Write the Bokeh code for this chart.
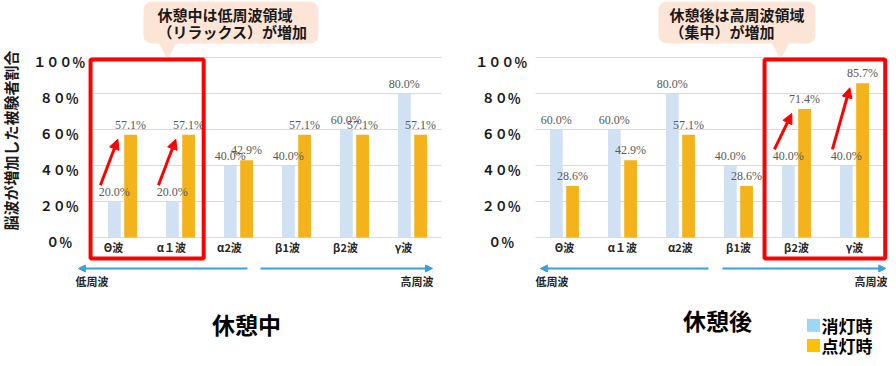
import numpy as np
from bokeh.plotting import figure
from bokeh.models import (ColumnDataSource, LabelSet, BoxAnnotation, Arrow,
                          NormalHead, Range1d)
from bokeh.core.properties import value
from bokeh.embed import file_html
from bokeh.resources import INLINE

# ---------------- data ----------------
categories = ["Θ波", "α１波", "α2波", "β1波", "β2波", "γ波"]
rest_off = [20.0, 20.0, 40.0, 40.0, 60.0, 80.0]      # 休憩中 消灯時
rest_on = [57.1, 57.1, 42.9, 57.1, 57.1, 57.1]       # 休憩中 点灯時
after_off = [60.0, 60.0, 80.0, 40.0, 40.0, 40.0]     # 休憩後 消灯時
after_on = [28.6, 42.9, 57.1, 28.6, 71.4, 85.7]      # 休憩後 点灯時
y_ticks = [0, 20, 40, 60, 80, 100]
y_tick_labels = ["０％", "２０％", "４０％", "６０％", "８０％", "１００％"]
series_names = ["消灯時", "点灯時"]
chart_titles = ["休憩中", "休憩後"]
callout_texts = [["休憩中は低周波領域", "（リラックス）が増加"],
                 ["休憩後は高周波領域", "（集中）が増加"]]
y_title = "脳波が増加した被験者割合"

# ---------------- style ----------------
JP = value("Noto Sans CJK JP")
SERIF = value("Liberation Serif")
BLUE_BAR = "#CFE1F2"
ORANGE_BAR = "#F5B31B"
BLUE_LEG = "#9CD8F5"
ORANGE_LEG = "#FFC000"
GRID = "#D9D9D9"
RED = "#FF0000"
DIR_BLUE = "#3AA0DA"
CALLOUT = "#FCE4D6"

p = figure(width=888, height=358, output_backend="svg", toolbar_location=None,
           x_range=Range1d(-2.103, 13.207), y_range=Range1d(-67.22, 131.67),
           x_axis_location=None, y_axis_location=None,
           min_border=0, outline_line_color=None, background_fill_color="white")
p.grid.visible = False

RIGHT = 7.62   # horizontal offset of the second chart
charts = [
    dict(off=0.0, blue=rest_off, orange=rest_on, label_dx=-9, hl=[0, 1],
         box=(-0.55, 0.40), dir_l=(2.155, -0.76), dir_r=(2.38, 5.345),
         low=(-0.526, "center"), high=(5.078, "center"), title_x=2.14, title_y=-48.3,
         callout=(0.362, 3.379, 0.603, 0.776)),
    dict(off=RIGHT, blue=after_off, orange=after_on, label_dx=0, hl=[4, 5],
         box=(-0.55, 0.53), dir_l=(2.483, -0.414), dir_r=(2.724, 5.54),
         low=(-0.216, "center"), high=(5.57, "right"), title_x=2.64, title_y=-46.1,
         callout=(9.241 - RIGHT, 11.948 - RIGHT, 9.431 - RIGHT, 11.345 - RIGHT)),
]

for ci, c in enumerate(charts):
    o = c["off"]
    pos = np.arange(len(categories)) + o
    # gridlines
    p.segment(x0=[o - 0.5] * len(y_ticks), x1=[o + 5.5] * len(y_ticks),
              y0=y_ticks, y1=y_ticks, line_color=GRID, line_width=1)
    # y tick labels
    p.text(x=[o - 1.09] * len(y_ticks), y=[t - 2.2 for t in y_ticks],
           text=y_tick_labels, text_font=JP, text_font_style="bold",
           text_font_size="13px", text_align="center", text_baseline="middle",
           text_color="#1a1a1a")
    # bars
    src_b = ColumnDataSource(dict(x=pos - 0.14, top=c["blue"],
                                  lab=[f"{v:.1f}%" for v in c["blue"]]))
    src_o = ColumnDataSource(dict(x=pos + 0.14, top=c["orange"],
                                  lab=[f"{v:.1f}%" for v in c["orange"]]))
    p.vbar(x="x", top="top", bottom=0, width=0.22, source=src_b,
           fill_color=BLUE_BAR, line_color=None)
    p.vbar(x="x", top="top", bottom=0, width=0.22, source=src_o,
           fill_color=ORANGE_BAR, line_color=None)
    for s in (src_b, src_o):
        p.add_layout(LabelSet(x="x", y="top", text="lab", source=s, y_offset=3,
                              text_align="center", text_baseline="bottom",
                              text_font=SERIF, text_font_size="12px",
                              text_color="#595959"))
    # category labels
    p.text(x=pos, y=[-5] * len(categories), text=categories, x_offset=c["label_dx"],
           text_font=JP, text_font_style="bold", text_font_size="11px",
           text_align="center", text_baseline="middle", text_color="#262626")
    # frequency direction arrows
    for xs, xe in (c["dir_l"], c["dir_r"]):
        p.add_layout(Arrow(x_start=o + xs, y_start=-17.2, x_end=o + xe, y_end=-17.2,
                           line_color=DIR_BLUE, line_width=2,
                           end=NormalHead(size=7, fill_color=DIR_BLUE,
                                          line_color=DIR_BLUE)))
    p.text(x=[o + c["low"][0]], y=[-24.2], text=["低周波"], text_font=JP,
           text_font_style="bold", text_font_size="11px", text_align=c["low"][1],
           text_baseline="middle", text_color="#262626")
    p.text(x=[o + c["high"][0]], y=[-24.2], text=["高周波"], text_font=JP,
           text_font_style="bold", text_font_size="11px", text_align=c["high"][1],
           text_baseline="middle", text_color="#262626")
    # chart title
    p.text(x=[o + c["title_x"]], y=[c["title_y"]], text=[chart_titles[ci]],
           text_font=JP, text_font_style="bold", text_font_size="23px",
           text_align="center", text_baseline="middle", text_color="black")
    # highlight box
    h0, h1 = c["hl"]
    p.add_layout(BoxAnnotation(left=o + h0 + c["box"][0], right=o + h1 + c["box"][1],
                               top=98.9, bottom=-11.7, fill_color=None,
                               fill_alpha=0, line_color=RED, line_width=4,
                               line_alpha=1))
    # red increase arrows
    hi = np.array(c["hl"])
    asrc = ColumnDataSource(dict(
        xs=pos[hi] - 0.38, ys=[c["blue"][i] + 9 for i in hi],
        xe=pos[hi] - 0.08, ye=[c["orange"][i] - 2.5 for i in hi]))
    p.add_layout(Arrow(x_start="xs", y_start="ys", x_end="xe", y_end="ye",
                       source=asrc, line_color=RED, line_width=3,
                       end=NormalHead(size=10, fill_color=RED, line_color=RED)))
    # callout
    bl, br, tx, tip = c["callout"]
    p.patch(x=[o + tip - 0.155, o + tip + 0.155, o + tip],
            y=[108.4, 108.4, 98.9], fill_color=CALLOUT, line_color=None)
    p.add_layout(BoxAnnotation(left=o + bl, right=o + br, top=131.0, bottom=107.8,
                               fill_color=CALLOUT, fill_alpha=1, line_color=None,
                               border_radius=8, level="underlay"))
    p.text(x=[o + tx] * 2, y=[123.9, 114.4], text=callout_texts[ci], text_font=JP,
           text_font_style="bold", text_font_size="15px", text_align="left",
           text_baseline="middle", text_color="#1a1a1a")

# y-axis title (shared, left)
p.text(x=[-1.931], y=[53.9], text=[y_title], angle=np.pi / 2, text_font=JP,
       text_font_style="bold", text_font_size="15px", text_align="center",
       text_baseline="middle", text_color="#1a1a1a")

# legend
p.scatter(x=[11.914, 11.914], y=[-48.8, -60.0], marker="square", size=13,
          fill_color=[BLUE_LEG, ORANGE_LEG], line_color=None)
p.text(x=[12.05, 12.05], y=[-48.8, -60.0], text=series_names, text_font=JP,
       text_font_style="bold", text_font_size="17px", text_align="left",
       text_baseline="middle", text_color="black")

open("out.html", "w").write(file_html(p, INLINE))
